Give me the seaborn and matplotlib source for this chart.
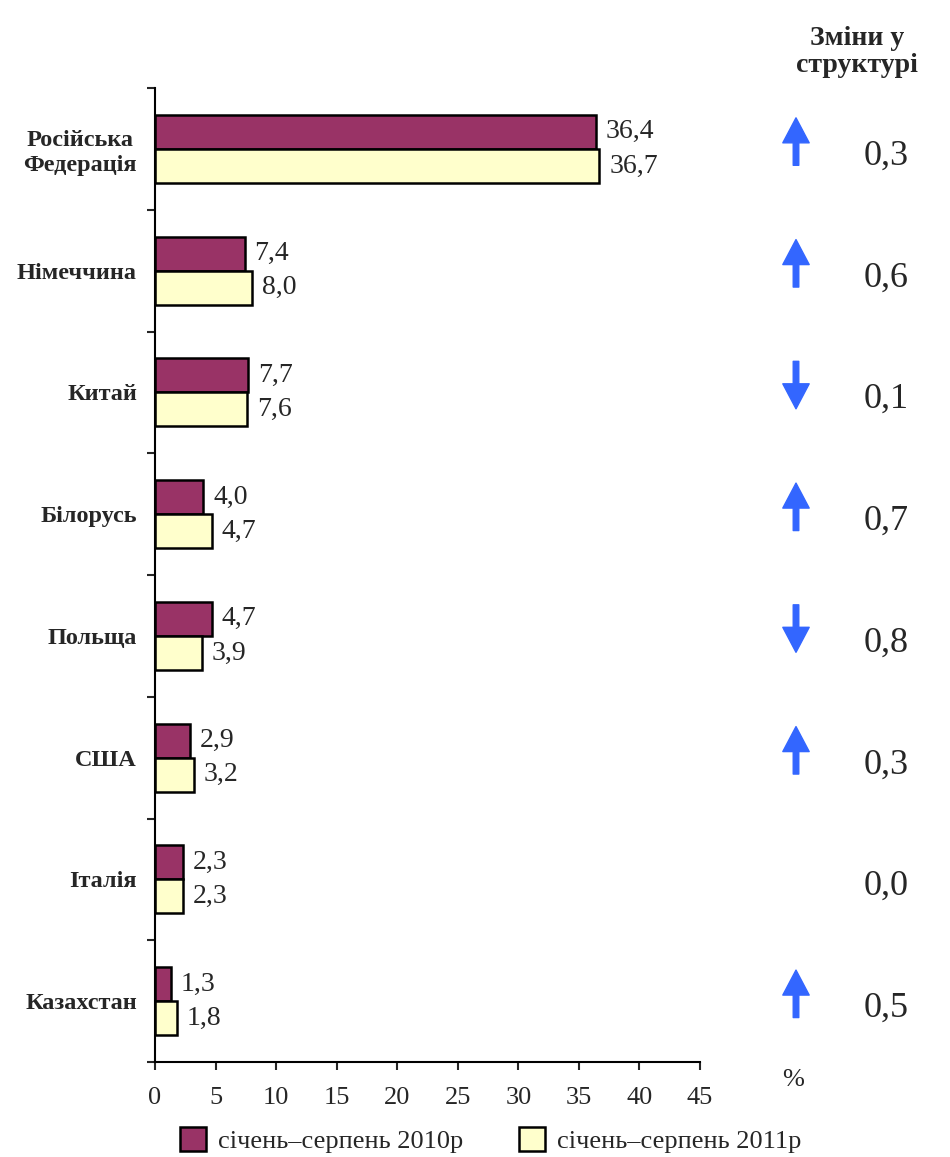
import pandas as pd
import matplotlib.pyplot as plt
import seaborn as sns

# Дані
countries = ['Російська\nФедерація', 'Німеччина', 'Китай', 'Білорусь',
             'Польща', 'США', 'Італія', 'Казахстан']
share_2010 = [36.4, 7.4, 7.7, 4.0, 4.7, 2.9, 2.3, 1.3]
share_2011 = [36.7, 8.0, 7.6, 4.7, 3.9, 3.2, 2.3, 1.8]
changes = [0.3, 0.6, -0.1, 0.7, -0.8, 0.3, 0.0, 0.5]
periods = ['січень–серпень 2010р', 'січень–серпень 2011р']
x_ticks = [0, 5, 10, 15, 20, 25, 30, 35, 40, 45]

df = pd.DataFrame({
    'country': countries * 2,
    'value': share_2010 + share_2011,
    'period': [periods[0]] * len(countries) + [periods[1]] * len(countries),
})

sns.set_theme(style="white")
plt.rcParams['font.family'] = ['Liberation Serif', 'DejaVu Serif']

color_2010 = '#993366'
color_2011 = '#FFFFCC'
arrow_color = '#3366FF'


def fmt(v):
    return f"{v:.1f}".replace('.', ',')


fig = plt.figure(figsize=(9.5, 11.57), dpi=100)
ax = fig.add_axes([155 / 950, 1 - 1062 / 1157, 545 / 950, 974 / 1157])

sns.barplot(data=df, x='value', y='country', hue='period', orient='h',
            palette=[color_2010, color_2011], saturation=1, width=0.56,
            edgecolor='black', linewidth=1.8, ax=ax)

for cont, vals in zip(ax.containers, [share_2010, share_2011]):
    ax.bar_label(cont, labels=[fmt(v) for v in vals], padding=7, fontsize=20)

ax.set_xlim(0, 45)
ax.set_ylim(len(countries) - 0.5, -0.5)
ax.set_xticks(x_ticks)
ax.set_xticklabels([str(t) for t in x_ticks], fontsize=19)
ax.set_yticks(range(len(countries)))
ax.set_yticklabels(countries, fontsize=17.5, fontweight='bold', multialignment='center')
ax.set_yticks([i - 0.5 for i in range(len(countries) + 1)], minor=True)
ax.tick_params(axis='y', which='major', length=0, pad=13)
ax.tick_params(axis='y', which='minor', length=6, width=1.5, direction='out', left=True)
ax.tick_params(axis='x', which='major', length=6, width=1.5, direction='out', bottom=True, pad=12)
ax.set_xlabel('')
ax.set_ylabel('')
for side in ['top', 'right']:
    ax.spines[side].set_visible(False)
for side in ['left', 'bottom']:
    ax.spines[side].set_color('black')
    ax.spines[side].set_linewidth(1.5)

# Легенда
handles, labels = ax.get_legend_handles_labels()
ax.get_legend().remove()
fig.legend(handles, labels, loc='center left', bbox_to_anchor=(180 / 950, 1 - 1140 / 1157),
           ncol=2, frameon=False, fontsize=19, handlelength=1.0, handleheight=1.0,
           handletextpad=0.45, columnspacing=2.1, borderaxespad=0, borderpad=0)

# Зміни у структурі
fig.text(857 / 950, 1 - 26 / 1157, 'Зміни у\nструктурі', ha='center', va='top',
         fontsize=20, fontweight='bold', linespacing=1.12)
fig.text(793 / 950, 1 - 1080 / 1157, '%', ha='center', va='center', fontsize=19)

for i, ch in enumerate(changes):
    ax.annotate(fmt(abs(ch)), xy=(886 / 950, i + 0.06), xycoords=('figure fraction', 'data'),
                ha='center', va='center', fontsize=26, annotation_clip=False)
    if ch == 0:
        continue
    yc = i - 0.06
    if ch > 0:
        start, end = yc + 0.195, yc - 0.195
    else:
        start, end = yc - 0.195, yc + 0.195
    ax.annotate('', xy=(796 / 950, end), xytext=(796 / 950, start),
                xycoords=('figure fraction', 'data'), textcoords=('figure fraction', 'data'),
                arrowprops=dict(arrowstyle='simple,head_length=0.9,head_width=0.95,tail_width=0.2',
                                color=arrow_color, mutation_scale=20, shrinkA=0, shrinkB=0),
                annotation_clip=False)

plt.savefig('out.png', dpi=100)
plt.close()
